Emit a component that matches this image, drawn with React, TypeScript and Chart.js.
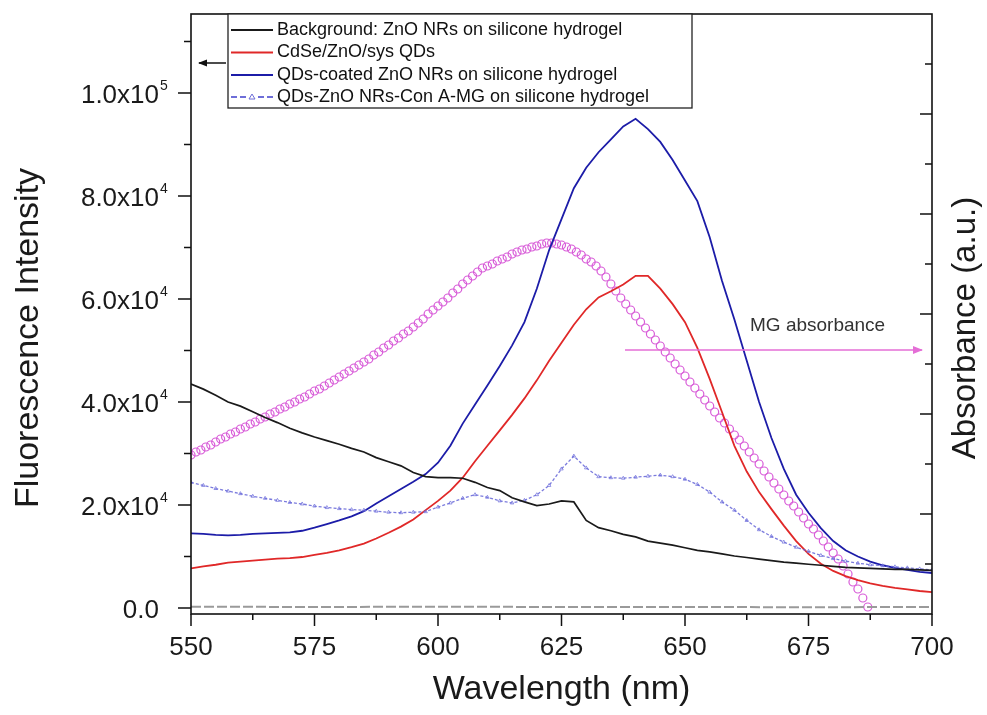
import React, { useEffect, useRef } from "react";
import { Chart, registerables } from "chart.js";

Chart.register(...registerables);

const FONT = '"Liberation Sans", Arial, Helvetica, sans-serif';

// Wavelength grid (nm) for the line spectra
const wavelengths = [
  550, 552.5, 555, 557.5, 560, 562.5, 565, 567.5, 570, 572.5,
  575, 577.5, 580, 582.5, 585, 587.5, 590, 592.5, 595, 597.5,
  600, 602.5, 605, 607.5, 610, 612.5, 615, 617.5, 620, 622.5,
  625, 627.5, 630, 632.5, 635, 637.5, 640, 642.5, 645, 647.5,
  650, 652.5, 655, 657.5, 660, 662.5, 665, 667.5, 670, 672.5,
  675, 677.5, 680, 682.5, 685, 687.5, 690, 692.5, 695, 697.5, 700,
];

// Background: ZnO NRs on silicone hydrogel (x1000)
const backgroundK = [
  43.5, 42.5, 41.3, 40.0, 39.2, 38.1, 37.0, 36.0, 34.9, 34.0,
  33.2, 32.5, 31.8, 31.0, 30.3, 29.2, 28.4, 27.6, 26.3, 25.5,
  25.3, 25.3, 25.2, 24.4, 23.4, 22.8, 21.4, 20.6, 19.9, 20.2,
  20.8, 20.6, 17.0, 15.6, 15.0, 14.3, 13.8, 13.0, 12.6, 12.2,
  11.7, 11.2, 10.9, 10.5, 10.1, 9.8, 9.5, 9.2, 8.9, 8.7,
  8.5, 8.3, 8.1, 7.9, 7.8, 7.7, 7.6, 7.5, 7.5, 7.4, 7.3,
];

// CdSe/ZnO/sys QDs (x1000)
const qdsK = [
  7.7, 8.1, 8.4, 8.8, 9.0, 9.2, 9.4, 9.6, 9.7, 9.9,
  10.3, 10.7, 11.2, 11.8, 12.5, 13.5, 14.6, 15.8, 17.2, 19.0,
  20.8, 22.8, 25.3, 28.5, 31.5, 34.5, 37.5, 40.7, 44.2, 48.0,
  51.5, 55.0, 58.0, 60.3, 61.5, 62.8, 64.5, 64.5, 62.0, 59.0,
  55.5, 50.5, 44.5, 38.0, 31.5, 26.5, 22.5, 19.2, 16.0, 13.0,
  10.5, 8.6, 7.2, 6.2, 5.4, 4.8, 4.3, 3.9, 3.6, 3.3, 3.1,
];

// QDs-coated ZnO NRs on silicone hydrogel (x1000)
const coatedK = [
  14.5, 14.4, 14.2, 14.1, 14.2, 14.4, 14.5, 14.6, 14.7, 15.0,
  15.6, 16.3, 17.0, 17.8, 18.8, 20.3, 21.7, 23.1, 24.5, 26.0,
  28.2, 31.5, 35.8, 39.5, 43.2, 47.0, 51.0, 55.5, 62.0, 69.5,
  75.5, 81.5, 85.5, 88.5, 91.0, 93.5, 95.0, 93.0, 90.5, 87.0,
  83.0, 79.0, 72.0, 63.5, 56.0, 48.0, 40.0, 33.0, 27.0, 22.0,
  18.5, 15.5, 13.0, 11.2, 10.0, 9.0, 8.3, 7.8, 7.4, 7.0, 6.8,
];

// QDs-ZnO NRs-Con A-MG on silicone hydrogel (x1000)
const conAK = [
  24.4, 23.8, 23.2, 22.7, 22.2, 21.7, 21.3, 20.9, 20.5, 20.2,
  19.8, 19.5, 19.3, 19.1, 19.0, 18.8, 18.6, 18.5, 18.6, 18.7,
  19.6, 20.4, 21.3, 22.0, 21.5, 20.8, 20.4, 20.9, 22.0, 23.8,
  27.0, 29.5, 27.2, 25.5, 25.3, 25.2, 25.4, 25.6, 25.8, 25.5,
  25.0, 24.0, 22.5, 20.6, 19.0, 17.0, 15.2, 13.9, 12.8, 11.8,
  11.0, 10.2, 9.6, 9.1, 8.7, 8.4, 8.2, 8.0, 7.8, 7.6, 7.4,
];

// Baseline trace near zero
const baselineWl = [550, 575, 600, 625, 650, 675, 700];
const baselineVal = [250, 200, 250, 200, 200, 150, 200];

// MG absorbance (right axis, a.u.)
const mgWl = [
  550, 551, 552, 553, 554, 555, 556, 557, 558, 559,
  560, 561, 562, 563, 564, 565, 566, 567, 568, 569,
  570, 571, 572, 573, 574, 575, 576, 577, 578, 579,
  580, 581, 582, 583, 584, 585, 586, 587, 588, 589,
  590, 591, 592, 593, 594, 595, 596, 597, 598, 599,
  600, 601, 602, 603, 604, 605, 606, 607, 608, 609,
  610, 611, 612, 613, 614, 615, 616, 617, 618, 619,
  620, 621, 622, 623, 624, 625, 626, 627, 628, 629,
  630, 631, 632, 633, 634, 635, 636, 637, 638, 639,
  640, 641, 642, 643, 644, 645, 646, 647, 648, 649,
  650, 651, 652, 653, 654, 655, 656, 657, 658, 659,
  660, 661, 662, 663, 664, 665, 666, 667, 668, 669,
  670, 671, 672, 673, 674, 675, 676, 677, 678, 679,
  680, 681, 682, 683, 684, 685, 686, 687,
];
const mgAbs = [
  1.59, 1.62, 1.64, 1.67, 1.69, 1.72, 1.75, 1.77, 1.80, 1.82,
  1.85, 1.87, 1.90, 1.92, 1.95, 1.97, 2.00, 2.02, 2.05, 2.07,
  2.10, 2.12, 2.15, 2.17, 2.20, 2.23, 2.25, 2.28, 2.31, 2.34,
  2.37, 2.40, 2.43, 2.46, 2.49, 2.52, 2.55, 2.59, 2.62, 2.66,
  2.69, 2.73, 2.76, 2.80, 2.83, 2.87, 2.91, 2.95, 3.00, 3.04,
  3.08, 3.12, 3.16, 3.21, 3.25, 3.30, 3.34, 3.38, 3.42, 3.46,
  3.48, 3.50, 3.53, 3.55, 3.57, 3.60, 3.62, 3.64, 3.65, 3.67,
  3.68, 3.70, 3.71, 3.71, 3.70, 3.69, 3.67, 3.65, 3.62, 3.59,
  3.55, 3.52, 3.48, 3.43, 3.37, 3.30, 3.23, 3.16, 3.10, 3.04,
  2.98, 2.92, 2.86, 2.80, 2.74, 2.68, 2.62, 2.56, 2.50, 2.44,
  2.38, 2.32, 2.26, 2.20, 2.14, 2.08, 2.02, 1.96, 1.91, 1.85,
  1.79, 1.74, 1.68, 1.62, 1.56, 1.50, 1.43, 1.37, 1.31, 1.25,
  1.19, 1.13, 1.08, 1.02, 0.96, 0.90, 0.85, 0.79, 0.73, 0.67,
  0.61, 0.55, 0.48, 0.40, 0.32, 0.25, 0.16, 0.07,
];

// Axis ticks / labels
const xMajorTicks = [550, 575, 600, 625, 650, 675, 700];
const xMinorTicks = [562.5, 587.5, 612.5, 637.5, 662.5, 687.5];
const yMajorTicks = [0, 20000, 40000, 60000, 80000, 100000];
const yMinorTicks = [10000, 30000, 50000, 70000, 90000, 110000];
const yTickBase = ["0.0", "2.0x10", "4.0x10", "6.0x10", "8.0x10", "1.0x10"];
const yTickExp = ["", "4", "4", "4", "4", "5"];
const y2MajorTicks = [1, 2, 3, 4, 5];
const y2MinorTicks = [0.5, 1.5, 2.5, 3.5, 4.5, 5.5];

const legendLabels = [
  "Background: ZnO NRs on silicone hydrogel",
  "CdSe/ZnO/sys QDs",
  "QDs-coated ZnO NRs on silicone hydrogel",
  "QDs-ZnO NRs-Con A-MG on silicone hydrogel",
];
const legendColors = ["#1a1a1a", "#e02828", "#1c1ca8", "#6e6ed8"];
const xTitle = "Wavelength (nm)";
const yTitle = "Fluorescence Intensity";
const y2Title = "Absorbance (a.u.)";
const mgLabel = "MG absorbance";

const toPoints = (xs: number[], ys: number[], scale = 1) =>
  xs.map((x, i) => ({ x, y: ys[i] * scale }));

function arrow(ctx: CanvasRenderingContext2D, x1: number, y: number, x2: number, color: string, head: number) {
  ctx.strokeStyle = color;
  ctx.fillStyle = color;
  ctx.lineWidth = 1.5;
  ctx.beginPath();
  ctx.moveTo(x1, y);
  ctx.lineTo(x2, y);
  ctx.stroke();
  const dir = x2 > x1 ? 1 : -1;
  ctx.beginPath();
  ctx.moveTo(x2 + dir * 1, y);
  ctx.lineTo(x2 - dir * head, y - head * 0.45);
  ctx.lineTo(x2 - dir * head, y + head * 0.45);
  ctx.closePath();
  ctx.fill();
}

const overlayPlugin = {
  id: "overlay",
  afterDraw(chart: any) {
    const ctx: CanvasRenderingContext2D = chart.ctx;
    const { left, right, top, bottom } = chart.chartArea;
    const xs = chart.scales.x;
    const ys = chart.scales.y;
    const y2s = chart.scales.y2;
    ctx.save();

    // frame
    ctx.strokeStyle = "#111";
    ctx.lineWidth = 1.6;
    ctx.strokeRect(left, top, right - left, bottom - top);

    // ticks
    ctx.lineWidth = 1.5;
    ctx.beginPath();
    xMajorTicks.forEach((v) => {
      const px = xs.getPixelForValue(v);
      ctx.moveTo(px, bottom);
      ctx.lineTo(px, bottom + 12);
    });
    xMinorTicks.forEach((v) => {
      const px = xs.getPixelForValue(v);
      ctx.moveTo(px, bottom);
      ctx.lineTo(px, bottom + 6);
    });
    yMajorTicks.forEach((v) => {
      const py = ys.getPixelForValue(v);
      ctx.moveTo(left, py);
      ctx.lineTo(left - 13, py);
    });
    yMinorTicks.forEach((v) => {
      const py = ys.getPixelForValue(v);
      ctx.moveTo(left, py);
      ctx.lineTo(left - 7, py);
    });
    y2MajorTicks.forEach((v) => {
      const py = y2s.getPixelForValue(v);
      ctx.moveTo(right, py);
      ctx.lineTo(right - 12, py);
    });
    y2MinorTicks.forEach((v) => {
      const py = y2s.getPixelForValue(v);
      ctx.moveTo(right, py);
      ctx.lineTo(right - 7, py);
    });
    ctx.stroke();

    // x tick labels
    ctx.fillStyle = "#1a1a1a";
    ctx.font = `26px ${FONT}`;
    ctx.textAlign = "center";
    ctx.textBaseline = "alphabetic";
    xMajorTicks.forEach((v) => {
      ctx.fillText(String(v), xs.getPixelForValue(v), bottom + 41);
    });

    // y tick labels with superscripts
    yMajorTicks.forEach((v, i) => {
      const py = ys.getPixelForValue(v);
      ctx.font = `26px ${FONT}`;
      ctx.textAlign = "right";
      ctx.fillText(yTickBase[i], left - 32, py + 10);
      if (yTickExp[i]) {
        ctx.font = `14px ${FONT}`;
        ctx.textAlign = "left";
        ctx.fillText(yTickExp[i], left - 31, py - 3);
      }
    });

    // axis titles
    ctx.font = `34px ${FONT}`;
    ctx.textAlign = "center";
    ctx.textBaseline = "middle";
    ctx.fillText(xTitle, (left + right) / 2, 690);
    ctx.save();
    ctx.translate(29, 338);
    ctx.rotate(-Math.PI / 2);
    ctx.fillText(yTitle, 0, 0);
    ctx.restore();
    ctx.save();
    ctx.translate(966, 328);
    ctx.rotate(-Math.PI / 2);
    ctx.font = `33px ${FONT}`;
    ctx.fillText(y2Title, 0, 0);
    ctx.restore();

    // left-pointing axis arrow
    arrow(ctx, 226, 63, 199, "#111", 8);

    // legend box
    const lx = 228, lr = 692, lt = top, lb = 108;
    ctx.fillStyle = "#fff";
    ctx.fillRect(lx, lt, lr - lx, lb - lt);
    ctx.strokeStyle = "#222";
    ctx.lineWidth = 1.3;
    ctx.strokeRect(lx, lt, lr - lx, lb - lt);
    const rows = [30, 52.5, 75, 97];
    legendLabels.forEach((lab, i) => {
      const ry = rows[i];
      ctx.strokeStyle = legendColors[i];
      ctx.lineWidth = 1.8;
      if (i === 3) ctx.setLineDash([6, 3]);
      ctx.beginPath();
      ctx.moveTo(231, ry);
      ctx.lineTo(273, ry);
      ctx.stroke();
      ctx.setLineDash([]);
      if (i === 3) {
        ctx.fillStyle = "#fff";
        ctx.fillRect(246, ry - 4, 12, 8);
        ctx.lineWidth = 1;
        ctx.beginPath();
        ctx.moveTo(252, ry - 3);
        ctx.lineTo(255, ry + 2);
        ctx.lineTo(249, ry + 2);
        ctx.closePath();
        ctx.stroke();
      }
      ctx.fillStyle = "#111";
      ctx.font = `18px ${FONT}`;
      ctx.textAlign = "left";
      ctx.textBaseline = "middle";
      ctx.fillText(lab, 277, ry);
    });

    // MG absorbance annotation
    ctx.fillStyle = "#333";
    ctx.font = `19px ${FONT}`;
    ctx.textAlign = "left";
    ctx.textBaseline = "middle";
    ctx.fillText(mgLabel, 750, 326);
    arrow(ctx, 625, 350, 922, "#e46ed6", 9);

    ctx.restore();
  },
};

export default function App() {
  const canvasRef = useRef<HTMLCanvasElement | null>(null);

  useEffect(() => {
    const canvas = canvasRef.current;
    if (!canvas) return;
    const chart = new Chart(canvas, {
      type: "line",
      data: {
        datasets: [
          {
            label: "baseline",
            data: toPoints(baselineWl, baselineVal),
            borderColor: "#9a9a9a",
            borderWidth: 2,
            borderDash: [10, 3],
            pointRadius: 0,
            yAxisID: "y",
          },
          {
            label: legendLabels[0],
            data: toPoints(wavelengths, backgroundK, 1000),
            borderColor: legendColors[0],
            borderWidth: 1.7,
            pointRadius: 0,
            yAxisID: "y",
          },
          {
            label: legendLabels[3],
            data: toPoints(wavelengths, conAK, 1000),
            borderColor: "rgba(100,100,215,0.85)",
            borderWidth: 1.3,
            borderDash: [3, 2],
            pointStyle: "triangle",
            pointRadius: 2,
            pointBorderWidth: 0.8,
            pointBorderColor: "rgba(110,110,220,0.9)",
            pointBackgroundColor: "rgba(255,255,255,0)",
            yAxisID: "y",
          },
          {
            label: legendLabels[1],
            data: toPoints(wavelengths, qdsK, 1000),
            borderColor: legendColors[1],
            borderWidth: 1.8,
            pointRadius: 0,
            yAxisID: "y",
          },
          {
            label: legendLabels[2],
            data: toPoints(wavelengths, coatedK, 1000),
            borderColor: legendColors[2],
            borderWidth: 1.8,
            pointRadius: 0,
            yAxisID: "y",
          },
          {
            label: mgLabel,
            data: toPoints(mgWl, mgAbs),
            showLine: false,
            pointStyle: "circle",
            pointRadius: 4,
            pointBorderWidth: 1.2,
            pointBorderColor: "#d85cd8",
            pointBackgroundColor: "rgba(255,255,255,0)",
            yAxisID: "y2",
          },
        ],
      },
      options: {
        responsive: false,
        animation: false,
        devicePixelRatio: 1,
        layout: { padding: { top: 14, left: 0, right: 0, bottom: 0 } },
        plugins: { legend: { display: false }, tooltip: { enabled: false } },
        scales: {
          x: {
            type: "linear",
            position: "bottom",
            min: 550,
            max: 700,
            ticks: { display: false },
            grid: { display: false },
            border: { display: false },
            afterFit: (s: any) => {
              s.height = 101;
            },
          },
          y: {
            type: "linear",
            position: "left",
            min: -1165,
            max: 115340,
            ticks: { display: false },
            grid: { display: false },
            border: { display: false },
            afterFit: (s: any) => {
              s.width = 191;
            },
          },
          y2: {
            type: "linear",
            position: "right",
            min: 0,
            max: 6,
            ticks: { display: false },
            grid: { display: false },
            border: { display: false },
            afterFit: (s: any) => {
              s.width = 55;
            },
          },
        },
      },
      plugins: [overlayPlugin],
    } as any);
    return () => chart.destroy();
  }, []);

  return (
    <div style={{ position: "absolute", left: 0, top: 0, width: 987, height: 715, background: "#fff" }}>
      <canvas ref={canvasRef} width={987} height={715} style={{ display: "block" }} />
    </div>
  );
}
